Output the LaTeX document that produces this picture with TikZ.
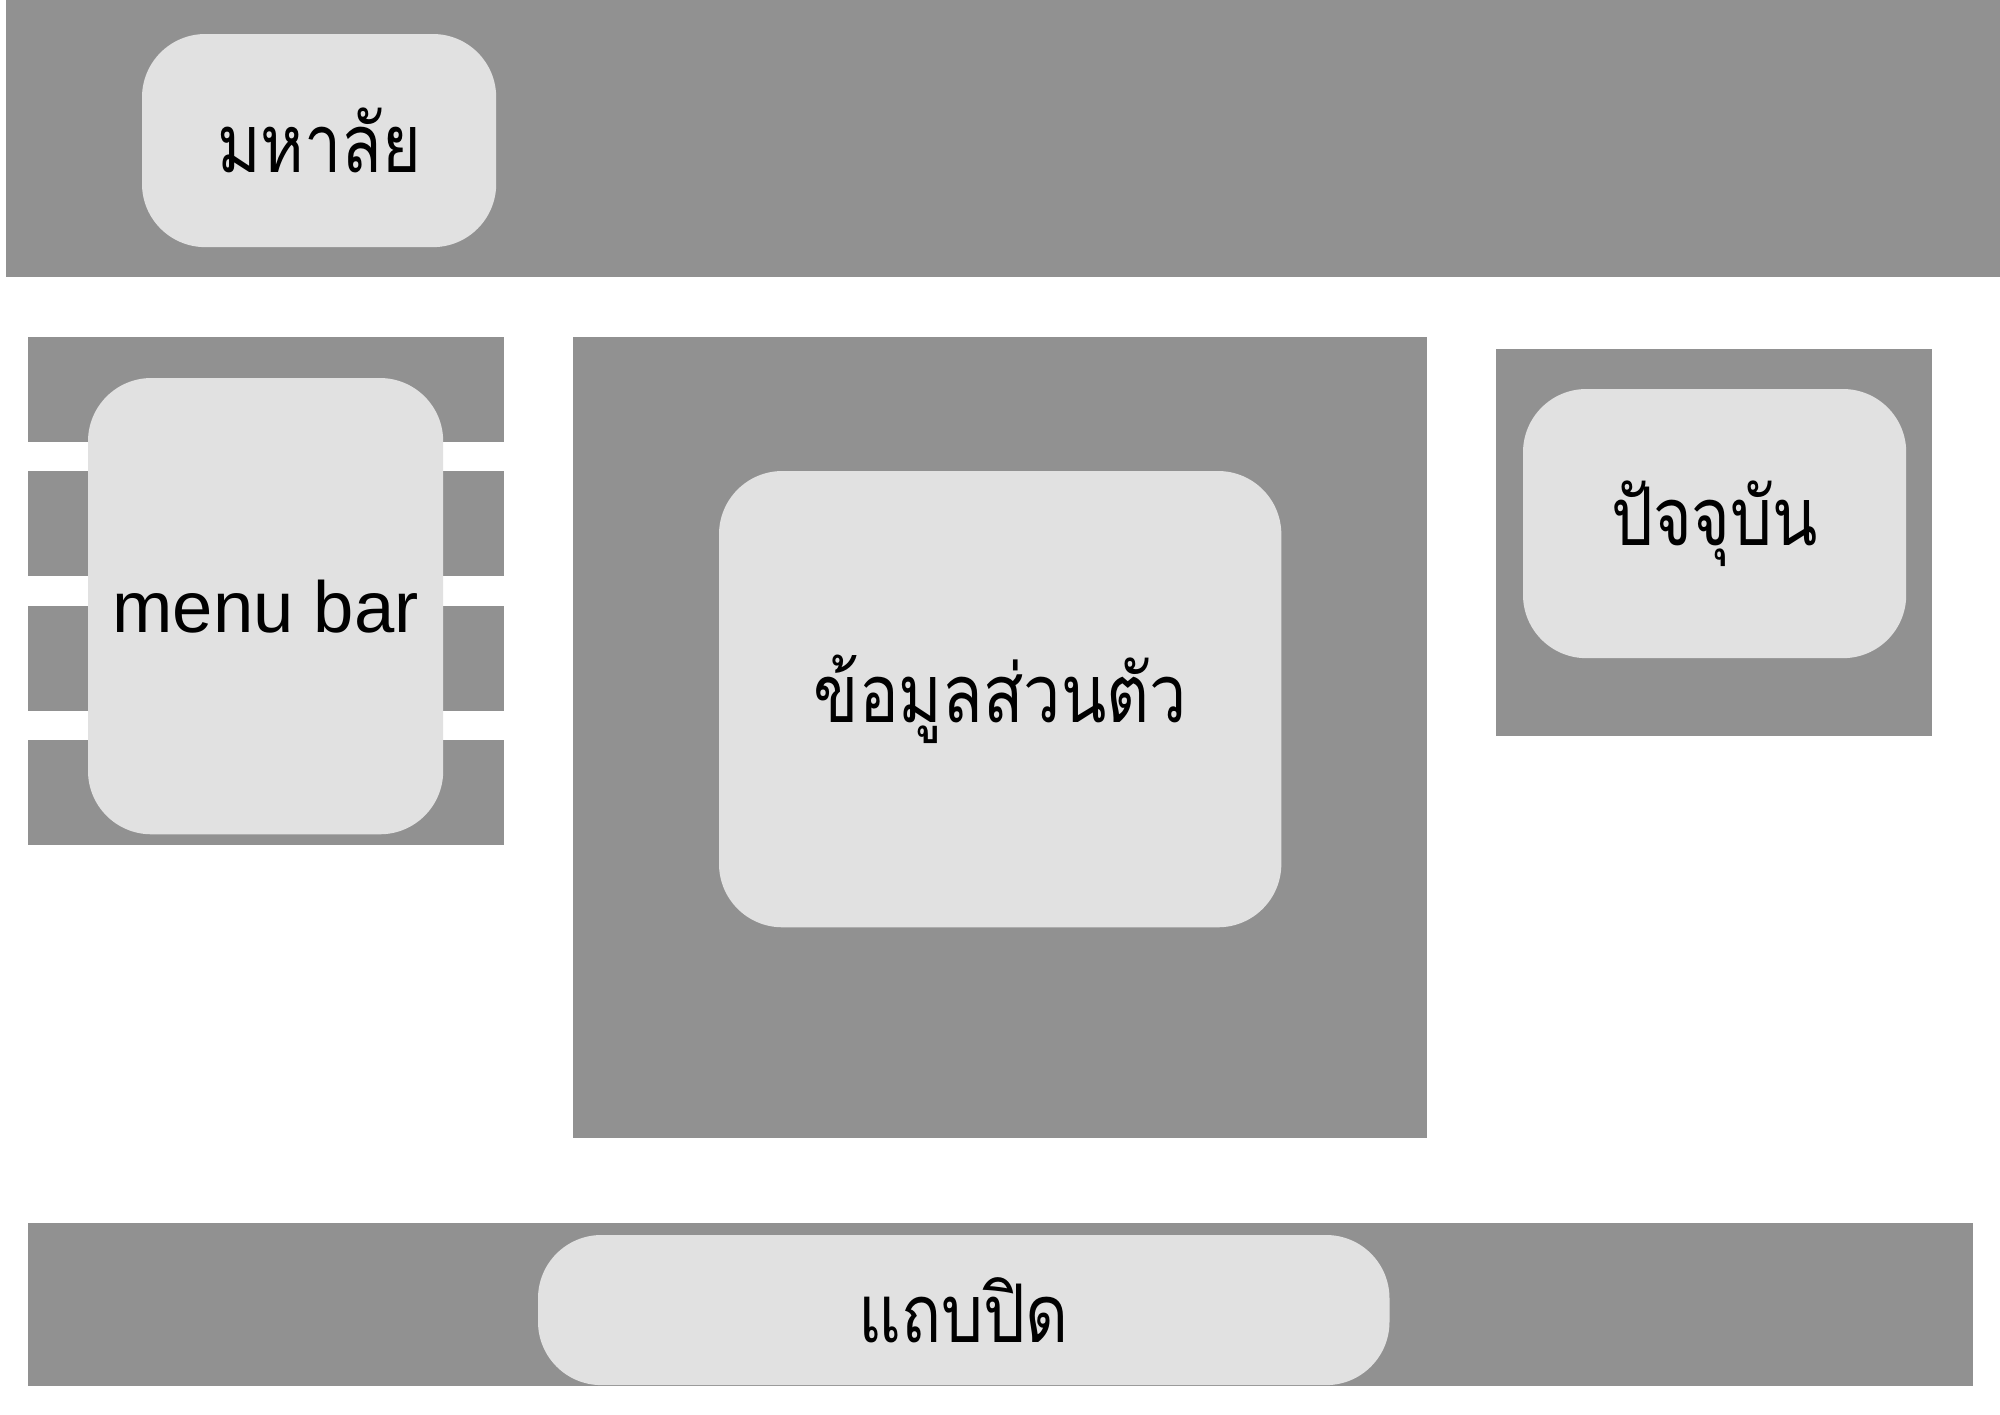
\documentclass[tikz,border=0pt]{standalone}
\usepackage{fontspec}
\setmainfont{Liberation Sans}
\newfontfamily\thaifont[Script=Thai,FakeStretch=0.82]{Loma}
\usetikzlibrary{positioning}
\definecolor{bandgray}{RGB}{145,145,145}
\definecolor{cardgray}{RGB}{225,225,225}

\begin{document}
\begin{tikzpicture}[x=0.01cm,y=-0.01cm,
  band/.style={fill=bandgray,inner sep=0pt,outer sep=0pt,anchor=north west},
  card/.style={fill=cardgray,rounded corners=18pt,inner sep=0pt,outer sep=0pt,anchor=north west,align=center,font=\thaifont\fontsize{23}{28}\selectfont}]
\useasboundingbox (0,0) rectangle (2000,1414);
% header
\node[band,minimum width=19.94cm,minimum height=2.77cm](hdr) at (6,0) {};
\node[card,minimum width=3.54cm,minimum height=2.13cm](uni) at (142,34) {มหาลัย};
% menu column
\foreach \r in {0,...,3}
  \node[band,minimum width=4.76cm,minimum height=1.05cm](row\r) at (28,337+134.3*\r) {};
\node[card,minimum width=3.55cm,minimum height=4.56cm,font=\fontsize{20.6}{24}\selectfont](menu) at (88,378) {menu bar};
% content
\node[band,minimum width=8.53cm,minimum height=8.01cm](main) at (573,337) {};
\node[card,minimum width=5.62cm,minimum height=4.56cm](info) at (719,471) {ข้อมูลส่วนตัว};
% side panel
\node[band,minimum width=4.36cm,minimum height=3.87cm](side) at (1496,349) {};
\node[card,minimum width=3.83cm,minimum height=2.69cm](now) at (1523,389) {ปัจจุบัน};
% footer
\node[band,minimum width=19.44cm,minimum height=1.63cm](foot) at (28,1223) {};
\node[card,minimum width=8.51cm,minimum height=1.50cm](close) at (538,1235) {แถบปิด};
\end{tikzpicture}
\end{document}
